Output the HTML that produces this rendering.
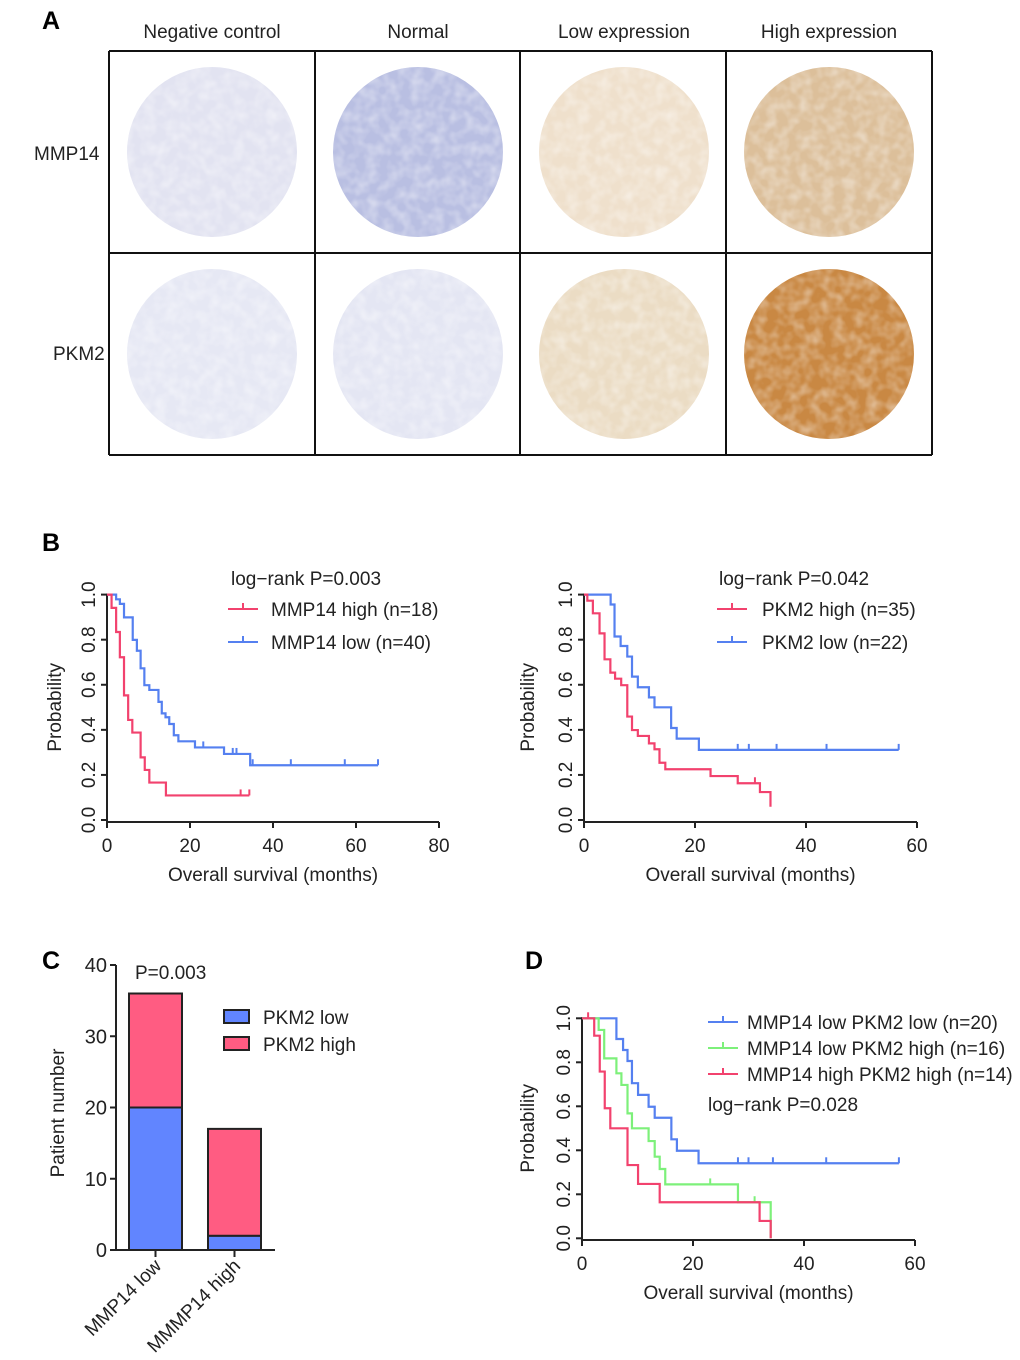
<!DOCTYPE html>
<html><head><meta charset="utf-8"><style>
html,body{margin:0;padding:0;background:#fff;}
svg{display:block;font-family:"Liberation Sans",Arial,sans-serif;}
</style></head><body>
<svg id="fig" width="1020" height="1360" viewBox="0 0 1020 1360" xmlns="http://www.w3.org/2000/svg">
<defs>
<filter id="tex" x="0" y="0" width="100%" height="100%">
<feTurbulence type="fractalNoise" baseFrequency="0.09" numOctaves="2" seed="3" result="n"/>
<feColorMatrix in="n" type="matrix" values="0 0 0 0 1  0 0 0 0 1  0 0 0 0 1  0 0 0 -1.4 0.9" result="m"/>
<feComposite in="m" in2="SourceGraphic" operator="in"/>
</filter>
</defs>
<g id="panelA"></g>
<g id="panelB1"></g>
<g id="panelB2"></g>
<g id="panelC"></g>
<g id="panelD"></g>
</svg>
<script>
// ---------- Panel B left data ----------
const b1HighT = [1.1, 2.2, 3.1, 4.1, 5.1, 6.1, 8.1, 9.1, 10.2, 14.2];
const b1HighS = [0.941, 0.834, 0.722, 0.553, 0.444, 0.388, 0.278, 0.222, 0.166, 0.109];
const b1HighCens = [32.2, 34.3];
const b1LowT = [2.2, 3.1, 4.1, 6.2, 7.2, 8.1, 9.0, 10.2, 12.4, 13.2, 14.1, 15.0, 16.1, 17.2, 21.2, 28.2, 34.5];
const b1LowS = [0.979, 0.959, 0.899, 0.799, 0.751, 0.673, 0.598, 0.577, 0.524, 0.473, 0.456, 0.426, 0.376, 0.349, 0.322, 0.293, 0.243];
const b1LowCens = [23.2, 30.3, 31.2, 35.1, 44.3, 57.3, 65.3];
const b1XTicks = [0, 20, 40, 60, 80];
const probTicks = [0, 0.2, 0.4, 0.6, 0.8, 1.0];
// ---------- Panel B right data ----------
const b2HighT = [0.6, 1.6, 2.8, 3.7, 4.75, 5.6, 6.7, 7.8, 8.65, 9.7, 11.7, 12.7, 13.6, 14.65, 22.8, 27.7, 31.7, 33.6];
const b2HighS = [0.973, 0.917, 0.828, 0.713, 0.654, 0.627, 0.598, 0.459, 0.399, 0.373, 0.34, 0.314, 0.254, 0.225, 0.195, 0.163, 0.124, 0.059];
const b2HighCens = [30.8];
const b2LowT = [4.8, 5.5, 6.6, 7.8, 8.65, 9.7, 11.7, 12.7, 15.7, 16.7, 20.7];
const b2LowS = [0.956, 0.814, 0.772, 0.725, 0.636, 0.589, 0.544, 0.5, 0.408, 0.361, 0.311];
const b2LowCens = [27.7, 29.7, 34.7, 43.7, 56.7];
const b2XTicks = [0, 20, 40, 60];
// ---------- Panel C data ----------
const cCategories = ["MMP14 low", "MMMP14 high"];
const cPkm2Low = [20, 2];
const cPkm2High = [16, 15];
const cYTicks = [0, 10, 20, 30, 40];
// ---------- Panel D data ----------
const dLLT = [6.2, 7.4, 8.2, 9.0, 10.1, 12.0, 13.1, 16.1, 17.1, 21.0];
const dLLS = [0.906, 0.856, 0.806, 0.705, 0.652, 0.598, 0.548, 0.45, 0.398, 0.341];
const dLLCens = [28.1, 30.0, 34.4, 44.0, 57.1];
const dLHT = [3.0, 4.0, 6.2, 7.1, 8.2, 9.0, 12.0, 13.1, 14.0, 15.0, 28.1, 34.0];
const dLHS = [0.947, 0.818, 0.75, 0.697, 0.568, 0.5, 0.442, 0.371, 0.315, 0.245, 0.164, 0];
const dLHCens = [23.1, 31.1];
const dHHT = [2.2, 3.2, 4.1, 5.1, 8.2, 10.1, 14.0, 32.0, 34.0];
const dHHS = [0.921, 0.758, 0.591, 0.5, 0.333, 0.247, 0.164, 0.079, 0];
const dHHCens = [1.1];
const dXTicks = [0, 20, 40, 60];

const NS = "http://www.w3.org/2000/svg";
const FS = 19;
function mk(parent, tag, attrs, text) {
  const e = document.createElementNS(NS, tag);
  for (const k in attrs) e.setAttribute(k, attrs[k]);
  if (text !== undefined) e.textContent = text;
  parent.appendChild(e);
  return e;
}
const RED = "#f2426e", BLUE = "#5580f0", GREEN = "#7df07a";

// ---------- Panel A ----------
(function(){
  const g = document.getElementById("panelA");
  let t = mk(g, "text", {x:42, y:29, "font-size":25, "font-weight":"bold"}, "A");
  
  
  const cols = ["Negative control","Normal","Low expression","High expression"];
  const cx = [212, 418, 624, 829];
  cols.forEach((c,i)=>{
    const e = mk(g, "text", {x:cx[i], y:38, "font-size":FS, "text-anchor":"middle", fill:"#222"}, c);
    
    
  });
  const r1 = mk(g, "text", {x:34, y:160, "font-size":FS, fill:"#222"}, "MMP14");
  
  
  const r2 = mk(g, "text", {x:53, y:360, "font-size":FS, fill:"#222"}, "PKM2");
  
  
  const fills = [["#e2e3f1","#b9bfe2","#efe0cc","#dcbf9a"],["#e6e8f4","#e4e6f3","#ebdcc4","#c98843"]];
  const cy = [152, 354];
  for (let r=0;r<2;r++) for (let c=0;c<4;c++){
    const circ = mk(g, "circle", {cx:cx[c], cy:cy[r], r:85, fill:fills[r][c]});
    
    
    const tex = mk(g, "circle", {cx:cx[c], cy:cy[r], r:85, fill:"#000", filter:"url(#tex)", opacity:0.55});
    
    
  }
  const lines = [[109,51,932,51],[109,253,932,253],[109,455,932,455],[109,51,109,455],[315,51,315,455],[520,51,520,455],[726,51,726,455],[932,51,932,455]];
  lines.forEach(l=>{
    const e = mk(g,"line",{x1:l[0],y1:l[1],x2:l[2],y2:l[3],stroke:"#111","stroke-width":2});
    
    
  });
})();

// ---------- KM helper ----------
function kmPlot(g, cfg) {
  const X = v => cfg.x0 + (cfg.x1 - cfg.x0) * v / cfg.xMax;
  const Y = p => cfg.y0 + (cfg.y1 - cfg.y0) * p;
  let ax = mk(g,"line",{x1:cfg.x0,y1:cfg.axisY,x2:cfg.x1,y2:cfg.axisY,stroke:"#222","stroke-width":2});
  
  
  let ay = mk(g,"line",{x1:cfg.x0,y1:Y(1)-1,x2:cfg.x0,y2:cfg.axisY,stroke:"#222","stroke-width":2});
  
  
  cfg.xTicks.forEach(v=>{
    const tk = mk(g,"line",{x1:X(v),y1:cfg.axisY,x2:X(v),y2:cfg.axisY+6,stroke:"#222","stroke-width":2});
    
    
    const tl = mk(g,"text",{x:X(v),y:cfg.axisY+30,"font-size":FS,"text-anchor":"middle",fill:"#222"}, String(v));
    
    
  });
  probTicks.forEach(p=>{
    const tk = mk(g,"line",{x1:cfg.x0-6,y1:Y(p),x2:cfg.x0,y2:Y(p),stroke:"#222","stroke-width":2});
    
    
    const lx = cfg.x0-12;
    const tl = mk(g,"text",{x:lx,y:Y(p),"font-size":FS,"text-anchor":"middle",fill:"#222",transform:`rotate(-90 ${lx} ${Y(p)})`}, p.toFixed(1));
    
    
  });
  const yt = mk(g,"text",{x:cfg.yTitleX,y:(Y(0)+Y(1))/2,"font-size":FS,"text-anchor":"middle",fill:"#222",transform:`rotate(-90 ${cfg.yTitleX} ${(Y(0)+Y(1))/2})`},"Probability");
  
  
  const xt = mk(g,"text",{x:(cfg.x0+cfg.x1)/2,y:cfg.axisY+59,"font-size":FS,"text-anchor":"middle",fill:"#222"},"Overall survival (months)");
  
  
  cfg.series.forEach(s=>{
    let d = `M${X(0)},${Y(1)}`;
    for (let i=0;i<s.t.length;i++) d += ` H${X(s.t[i])} V${Y(s.s[i])}`;
    const last = Math.max(s.t[s.t.length-1], ...s.c);
    d += ` H${X(last)}`;
    const p = mk(g,"path",{d:d,fill:"none",stroke:s.color,"stroke-width":2.2});
    
    
    s.c.forEach(ct=>{
      let sv = 1;
      for (let i=0;i<s.t.length;i++) if (s.t[i] <= ct) sv = s.s[i];
      const m = mk(g,"line",{x1:X(ct),y1:Y(sv)-6,x2:X(ct),y2:Y(sv),stroke:s.color,"stroke-width":2});
      
      
    });
  });
  cfg.legend.forEach((L,i)=>{
    const yy = cfg.legY + i*cfg.legDy;
    const ll = mk(g,"line",{x1:cfg.legX,y1:yy,x2:cfg.legX+30,y2:yy,stroke:L.color,"stroke-width":2});
    
    
    const lt = mk(g,"line",{x1:cfg.legX+15,y1:yy-6,x2:cfg.legX+15,y2:yy,stroke:L.color,"stroke-width":2});
    
    
    const tx = mk(g,"text",{x:cfg.legX+cfg.legTextDx,y:yy+7,"font-size":FS,fill:"#222"},L.label);
    
    
  });
  if (cfg.pText) {
    const pt = mk(g,"text",{x:cfg.pX,y:cfg.pY,"font-size":FS,fill:"#222"},cfg.pText);
    
    
  }
}

// ---------- Panel B ----------
(function(){
  const g1 = document.getElementById("panelB1");
  const lb = mk(g1,"text",{x:42,y:551,"font-size":25,"font-weight":"bold"},"B");
  
  
  kmPlot(g1,{x0:107,x1:439,xMax:80,y0:820,y1:594.6,axisY:822,xTicks:b1XTicks,yTitleX:61,
    series:[{t:b1LowT,s:b1LowS,c:b1LowCens,color:BLUE,name:"mmp14-low-curve"},{t:b1HighT,s:b1HighS,c:b1HighCens,color:RED,name:"mmp14-high-curve"}],
    legend:[{label:"MMP14 high (n=18)",color:RED},{label:"MMP14 low (n=40)",color:BLUE}],
    legX:228,legY:609,legDy:33,legTextDx:43,pText:"log\u2212rank P=0.003",pX:231,pY:585});
  const g2 = document.getElementById("panelB2");
  kmPlot(g2,{x0:584,x1:917,xMax:60,y0:820,y1:594.6,axisY:822,xTicks:b2XTicks,yTitleX:534,
    series:[{t:b2LowT,s:b2LowS,c:b2LowCens,color:BLUE,name:"pkm2-low-curve"},{t:b2HighT,s:b2HighS,c:b2HighCens,color:RED,name:"pkm2-high-curve"}],
    legend:[{label:"PKM2 high (n=35)",color:RED},{label:"PKM2 low (n=22)",color:BLUE}],
    legX:717,legY:609,legDy:33,legTextDx:45,pText:"log\u2212rank P=0.042",pX:719,pY:585});
})();

// ---------- Panel C ----------
(function(){
  const g = document.getElementById("panelC");
  const lb = mk(g,"text",{x:42,y:969,"font-size":25,"font-weight":"bold"},"C");
  
  
  const x0 = 116, x1 = 275, yb = 1250, yt = 965, yMax = 40;
  const Y = v => yb - (yb-yt)*v/yMax;
  const barX = [129, 208], bw = 53;
  cCategories.forEach((c,i)=>{
    const lo = mk(g,"rect",{x:barX[i],y:Y(cPkm2Low[i]),width:bw,height:Y(0)-Y(cPkm2Low[i]),fill:"#6185ff",stroke:"#222","stroke-width":2});
    
    
    const tot = cPkm2Low[i]+cPkm2High[i];
    const hi = mk(g,"rect",{x:barX[i],y:Y(tot),width:bw,height:Y(cPkm2Low[i])-Y(tot),fill:"#ff5c82",stroke:"#222","stroke-width":2});
    
    
    const cx = barX[i]+bw/2;
    const tk = mk(g,"line",{x1:cx,y1:yb,x2:cx,y2:yb+7,stroke:"#222","stroke-width":2});
    
    
    const tl = mk(g,"text",{x:cx+7,y:yb+17,"font-size":FS,"text-anchor":"end",fill:"#222",transform:`rotate(-45 ${cx+7} ${yb+17})`},c);
    
    
  });
  const ax = mk(g,"line",{x1:x0,y1:yb,x2:x1,y2:yb,stroke:"#222","stroke-width":2});
  
  
  const ay = mk(g,"line",{x1:x0,y1:yt,x2:x0,y2:yb,stroke:"#222","stroke-width":2});
  
  
  cYTicks.forEach(v=>{
    const tk = mk(g,"line",{x1:x0-6,y1:Y(v),x2:x0,y2:Y(v),stroke:"#222","stroke-width":2});
    
    
    const tl = mk(g,"text",{x:x0-9,y:Y(v)+7,"font-size":20,"text-anchor":"end",fill:"#222"},String(v));
    
    
  });
  const ytl = mk(g,"text",{x:64,y:1113,"font-size":FS,"text-anchor":"middle",fill:"#222",transform:"rotate(-90 64 1113)"},"Patient number");
  
  
  const p = mk(g,"text",{x:135,y:979,"font-size":FS,fill:"#222"},"P=0.003");
  
  
  [["PKM2 low","#6185ff",1010],["PKM2 high","#ff5c82",1037]].forEach(L=>{
    const r = mk(g,"rect",{x:224,y:L[2],width:25,height:13,fill:L[1],stroke:"#222","stroke-width":2});
    
    
    const t = mk(g,"text",{x:263,y:L[2]+14,"font-size":FS,fill:"#222"},L[0]);
    
    
  });
})();

// ---------- Panel D ----------
(function(){
  const g = document.getElementById("panelD");
  const lb = mk(g,"text",{x:525,y:969,"font-size":25,"font-weight":"bold"},"D");
  
  
  kmPlot(g,{x0:582,x1:915,xMax:60,y0:1238.3,y1:1018.3,axisY:1240,xTicks:dXTicks,yTitleX:534,
    series:[{t:dLLT,s:dLLS,c:dLLCens,color:BLUE,name:"low-low-curve"},{t:dLHT,s:dLHS,c:dLHCens,color:GREEN,name:"low-high-curve"},{t:dHHT,s:dHHS,c:dHHCens,color:RED,name:"high-high-curve"}],
    legend:[{label:"MMP14 low PKM2 low (n=20)",color:BLUE},{label:"MMP14 low PKM2 high (n=16)",color:GREEN},{label:"MMP14 high PKM2 high (n=14)",color:RED}],
    legX:708,legY:1022,legDy:26,legTextDx:39,pText:"log\u2212rank P=0.028",pX:708,pY:1111});
})();
</script>
</body></html>
